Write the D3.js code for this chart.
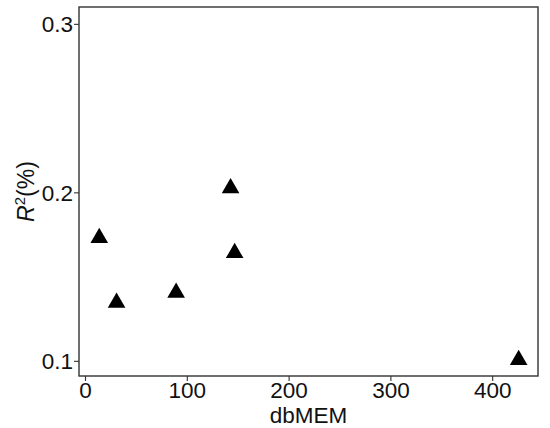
<!DOCTYPE html>
<html><head><meta charset="utf-8">
<script src="https://cdn.jsdelivr.net/npm/d3@7"></script>
<style>body{margin:0;background:#fff}svg{display:block}text{font-family:"Liberation Sans",Arial,sans-serif}</style>
</head><body>
<svg id="c" width="550" height="428"></svg>
<script>
const xVals = [14, 31, 89.5, 143, 147, 426];
const yVals = [0.173, 0.1345, 0.1405, 0.2025, 0.164, 0.1005];
const xTicks = [0, 100, 200, 300, 400];
const yTicks = [0.1, 0.2, 0.3];
const xLabel = "dbMEM";

const svg = d3.select("#c");
const L = 79, R = 538, T = 7, B = 376;
const x = d3.scaleLinear().domain([-5.9, 445]).range([L, R]);
const y = d3.scaleLinear().domain([0.091, 0.31]).range([B, T]);

svg.append("rect").attr("width",550).attr("height",428).attr("fill","#fff");

const xa = svg.append("g").attr("transform",`translate(0,${B})`)
  .call(d3.axisBottom(x).tickValues(xTicks).tickFormat(d3.format("d")).tickSize(5).tickPadding(2));
const ya = svg.append("g").attr("transform",`translate(${L},0)`)
  .call(d3.axisLeft(y).tickValues(yTicks).tickFormat(d3.format(".1f")).tickSize(5).tickPadding(2));
[xa, ya].forEach(g => {
  g.select(".domain").remove();
  g.selectAll(".tick line").attr("stroke","#333").attr("stroke-width",1.1);
  g.selectAll(".tick text").attr("fill","#111").style("font-size","22.5px")
    .style("font-family",'"Liberation Sans",Arial,sans-serif');
});
xa.selectAll(".tick text").attr("dy",null).attr("y",21.5);
ya.selectAll(".tick text").attr("dy","0.36em").attr("x",-6);

svg.append("rect").attr("x",L).attr("y",T).attr("width",R-L).attr("height",B-T)
  .attr("fill","none").attr("stroke","#333").attr("stroke-width",1.4);

const tri = d3.symbol().type(d3.symbolTriangle).size(135);
svg.append("g").selectAll("path").data(xVals).join("path")
  .attr("d", tri)
  .attr("transform",(d,i)=>`translate(${x(d)},${y(yVals[i])})`)
  .attr("fill","#000");

svg.append("text").attr("x",(L+R)/2).attr("y",423).attr("text-anchor","middle")
  .attr("fill","#111").style("font-size","22.5px").text(xLabel);

const yl = svg.append("text").attr("transform",`translate(34,${(T+B)/2}) rotate(-90)`)
  .attr("text-anchor","middle").attr("fill","#111").style("font-size","23px");
yl.append("tspan").attr("font-style","italic").text("R");
yl.append("tspan").attr("dy",-9).style("font-size","15px").text("2");
yl.append("tspan").attr("dy",9).text("(%)");
</script>
</body></html>
